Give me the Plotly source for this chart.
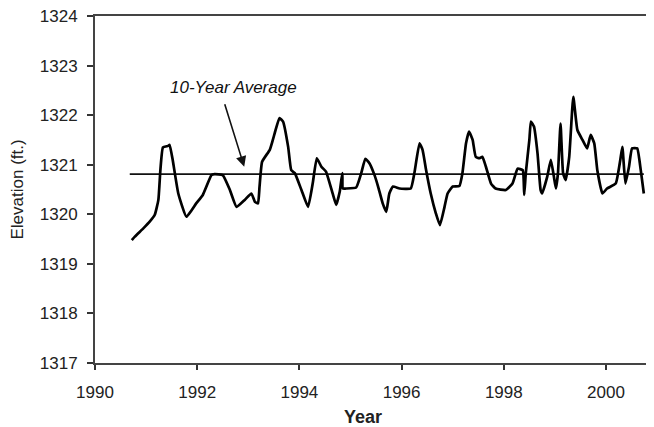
import plotly.graph_objects as go

years = [1990.72, 1990.78, 1990.95, 1991.07, 1991.17, 1991.24, 1991.28, 1991.33, 1991.43, 1991.46,
         1991.52, 1991.63, 1991.79, 1991.98, 1992.11, 1992.28, 1992.34, 1992.50, 1992.64, 1992.77,
         1992.93, 1993.06, 1993.13, 1993.19, 1993.22, 1993.27, 1993.42, 1993.48, 1993.61, 1993.68,
         1993.78, 1993.84, 1993.91, 1994.04, 1994.17, 1994.26, 1994.34, 1994.43, 1994.52, 1994.65,
         1994.72, 1994.79, 1994.84, 1994.85, 1994.91, 1995.11, 1995.21, 1995.29, 1995.37, 1995.47,
         1995.54, 1995.63, 1995.70, 1995.76, 1995.83, 1995.96, 1996.18, 1996.25, 1996.35, 1996.41,
         1996.48, 1996.57, 1996.67, 1996.75, 1996.84, 1996.90, 1997.00, 1997.13, 1997.19, 1997.26,
         1997.32, 1997.39, 1997.45, 1997.52, 1997.58, 1997.65, 1997.75, 1997.84, 1998.04, 1998.17,
         1998.27, 1998.37, 1998.40, 1998.43, 1998.50, 1998.53, 1998.59, 1998.66, 1998.72, 1998.75,
         1998.85, 1998.92, 1998.98, 1999.02, 1999.06, 1999.11, 1999.16, 1999.21, 1999.28, 1999.36,
         1999.44, 1999.54, 1999.63, 1999.70, 1999.77, 1999.83, 1999.93, 2000.02, 2000.19, 2000.28,
         2000.32, 2000.38, 2000.45, 2000.51, 2000.61, 2000.68, 2000.74]
elevation = [1319.48, 1319.55, 1319.72, 1319.85, 1319.99, 1320.29, 1320.90, 1321.35, 1321.38, 1321.40,
             1321.10, 1320.42, 1319.95, 1320.22, 1320.39, 1320.79, 1320.81, 1320.79, 1320.49, 1320.15,
             1320.29, 1320.42, 1320.25, 1320.22, 1320.56, 1321.06, 1321.30, 1321.50, 1321.94, 1321.87,
             1321.36, 1320.89, 1320.83, 1320.49, 1320.15, 1320.62, 1321.13, 1320.96, 1320.86, 1320.42,
             1320.19, 1320.46, 1320.83, 1320.52, 1320.52, 1320.54, 1320.83, 1321.12, 1321.03, 1320.79,
             1320.56, 1320.22, 1320.05, 1320.42, 1320.56, 1320.52, 1320.52, 1320.83, 1321.43, 1321.30,
             1320.89, 1320.42, 1320.02, 1319.78, 1320.15, 1320.42, 1320.56, 1320.57, 1320.83, 1321.43,
             1321.67, 1321.50, 1321.16, 1321.13, 1321.16, 1320.96, 1320.62, 1320.52, 1320.49, 1320.62,
             1320.92, 1320.89, 1320.39, 1320.83, 1321.50, 1321.87, 1321.77, 1321.23, 1320.49, 1320.42,
             1320.76, 1321.10, 1320.76, 1320.52, 1320.83, 1321.83, 1320.83, 1320.69, 1321.16, 1322.37,
             1321.70, 1321.50, 1321.33, 1321.60, 1321.43, 1320.89, 1320.42, 1320.52, 1320.62, 1321.10,
             1321.36, 1320.62, 1320.96, 1321.33, 1321.33, 1320.89, 1320.42]

avg_value = 1320.81
avg_span = [1990.68, 2000.74]

x_ticks = [1990, 1992, 1994, 1996, 1998, 2000]
y_ticks = [1317, 1318, 1319, 1320, 1321, 1322, 1323, 1324]

font = "Liberation Sans, Arial, sans-serif"

fig = go.Figure()
fig.add_trace(go.Scatter(x=avg_span, y=[avg_value, avg_value], mode="lines",
                         line=dict(color="#111", width=1.6), showlegend=False, hoverinfo="skip"))
fig.add_trace(go.Scatter(x=years, y=elevation, mode="lines",
                         line=dict(color="#000", width=2.7, shape="spline", smoothing=0.4),
                         showlegend=False))

fig.add_annotation(x=1992.92, y=1320.96, ax=1992.53, ay=1322.25, axref="x", ayref="y",
                   xref="x", yref="y", text="", showarrow=True, arrowhead=2, arrowsize=1.3,
                   arrowwidth=1.6, arrowcolor="#111")
fig.add_annotation(x=1992.72, y=1322.55, xref="x", yref="y", text="<i>10-Year Average</i>",
                   showarrow=False, font=dict(family=font, size=17, color="#111"))

# axis titles
fig.add_annotation(x=-0.140, y=0.5, xref="paper", yref="paper", text="Elevation (ft.)",
                   textangle=-90, showarrow=False, xanchor="center", yanchor="middle",
                   font=dict(family=font, size=17, color="#222"))
fig.add_annotation(x=0.481, y=-0.156, xref="paper", yref="paper", text="<b>Year</b>",
                   showarrow=False, xanchor="center", yanchor="middle",
                   font=dict(family=font, size=18, color="#222"))

# page has an 8px body margin, so the figure is sized/offset to land in the 654x427 window
fig.update_layout(
    width=646, height=419,
    margin=dict(l=87, r=2, t=8, b=64),
    paper_bgcolor="white", plot_bgcolor="white",
    font=dict(family=font, size=17, color="#222"),
)
fig.update_xaxes(range=[1990, 2000.9], tickvals=x_ticks, ticks="outside", ticklen=5,
                 tickwidth=1.5, tickcolor="#333", showline=True, linecolor="#444", linewidth=2,
                 mirror=True, showgrid=False, zeroline=False, automargin=False,
                 ticklabelstandoff=8, ticklabeloverflow="allow")
fig.update_yaxes(range=[1317, 1324], tickvals=y_ticks, ticks="outside", ticklen=6,
                 tickwidth=1.5, tickcolor="#333", showline=True, linecolor="#444", linewidth=2,
                 showgrid=False, zeroline=False, automargin=False,
                 ticklabelstandoff=6, ticklabeloverflow="allow")

fig.write_html("out.html")
